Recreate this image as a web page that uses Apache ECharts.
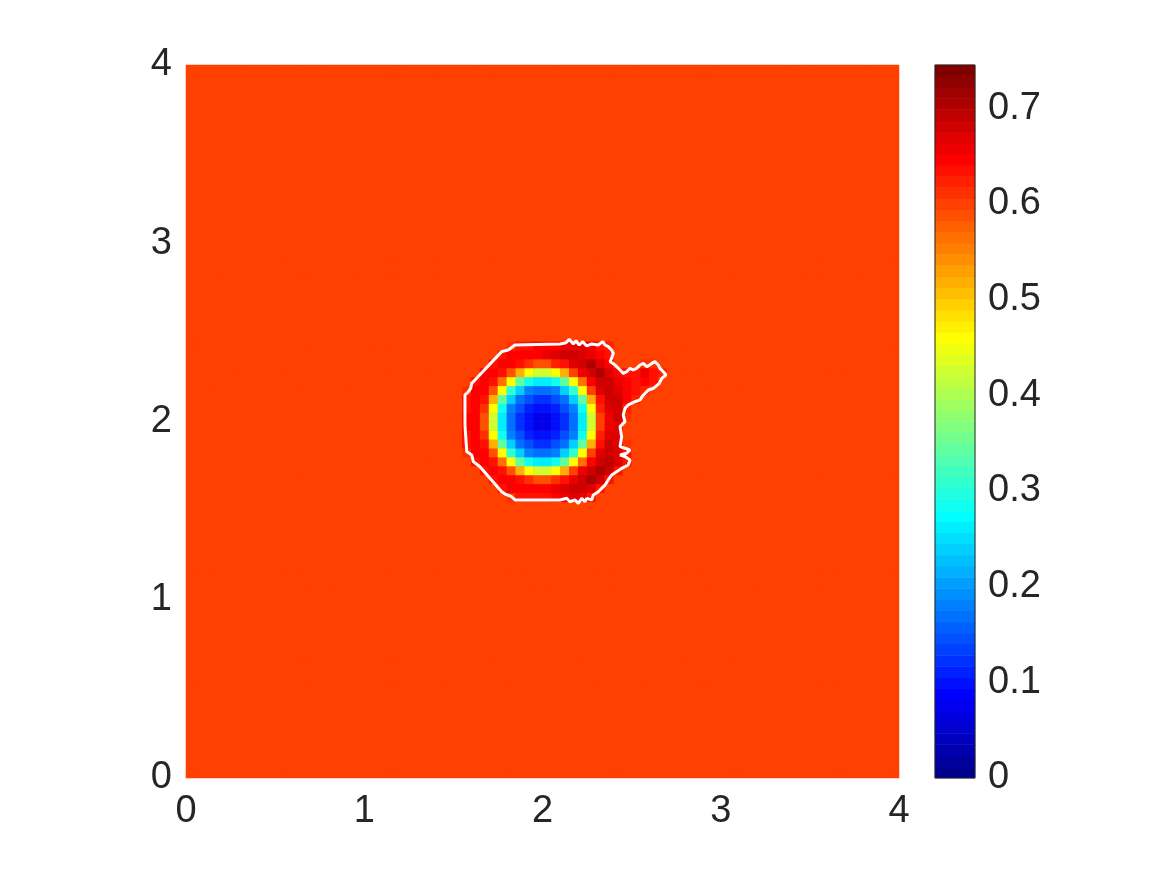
<!DOCTYPE html>
<html>
<head>
<meta charset="utf-8">
<script src="https://cdn.jsdelivr.net/npm/echarts@6/dist/echarts.min.js"></script>
<style>
html,body{margin:0;padding:0;background:#fff;}
#main{width:1167px;height:875px;}
</style>
</head>
<body>
<div id="main"></div>
<script>
// field sampled on a 0.05 grid over [0,4]x[0,4]
var nCells = 80;
var baseValue = 0.60;

// patch around the hole, values x100, columns x=1.575..2.675, rows top (y=2.475) to bottom (y=1.525)
var patchCol0 = 31;
var patchRowTop = 49;
var patchRows = [
    [60,60,60,60,60,60,60,60,60, 60,60,60,60,60,60,60,60,60,60,60,60,60,60],
    [60,60,60,60,60,61,63,64,65, 65,65,66,66,67,66,64,62,60,60,60,60,60,60],
    [60,60,60,60,63,65,65,65,65, 66,67,68,68,67,66,65,63,60,60,60,60,60,60],
    [60,60,60,64,65,65,63,61,59, 59,62,64,67,68,70,67,65,60,60,60,61,61,60],
    [60,60,65,65,64,59,52,46,42, 42,46,52,60,66,68,70,67,65,63,64,66,64,62],
    [60,63,65,64,57,46,34,29,26, 26,29,34,46,57,65,68,68,66,65,64,65,64,60],
    [61,65,65,59,46,31,24,18,17, 17,18,24,31,46,60,67,68,67,65,64,62,60,60],
    [63,65,63,52,34,24,17,14,12, 12,14,17,24,34,52,64,68,68,65,62,60,60,60],
    [64,65,61,46,29,18,14,11,10, 10,11,14,18,29,46,62,67,68,62,60,60,60,60],
    [65,65,59,42,26,17,12,10, 8,  8,10,12,17,26,42,60,66,68,61,60,60,60,60],
    [65,65,59,42,26,17,12,10, 8,  8,10,12,17,26,42,60,66,67,60,60,60,60,60],
    [64,65,61,46,29,18,14,11,10, 10,11,14,18,29,46,62,67,67,60,60,60,60,60],
    [63,65,63,52,34,24,17,14,12, 12,14,17,24,34,52,64,68,67,61,60,60,60,60],
    [61,65,65,59,46,31,24,18,17, 17,18,24,31,46,60,67,68,67,63,60,60,60,60],
    [60,63,65,64,57,46,34,29,26, 26,29,34,46,57,65,68,69,67,64,60,60,60,60],
    [60,60,63,65,64,59,52,46,42, 42,46,52,60,66,68,70,68,63,60,60,60,60,60],
    [60,60,60,64,65,65,63,61,59, 59,61,63,66,68,70,68,63,60,60,60,60,60,60],
    [60,60,60,60,63,65,65,65,65, 65,66,67,68,68,67,64,60,60,60,60,60,60,60],
    [60,60,60,60,60,61,63,64,64, 64,65,66,67,66,63,60,60,60,60,60,60,60,60],
    [60,60,60,60,60,60,60,60,60, 60,60,60,60,60,60,60,60,60,60,60,60,60,60]
];

// white contour line
var contourX = [1.565,1.565,1.584,1.597,1.603,1.621,1.771,1.808,1.846,2.098,
    2.132,2.150,2.173,2.188,2.206,2.226,2.248,2.276,2.313,2.338,
    2.351,2.369,2.388,2.397,2.388,2.379,2.407,2.435,2.453,2.472,
    2.491,2.509,2.528,2.547,2.566,2.585,2.613,2.631,2.650,2.659,
    2.678,2.693,2.669,2.655,2.622,2.594,2.566,2.547,2.519,2.481,
    2.463,2.453,2.463,2.435,2.444,2.435,2.463,2.491,2.472,2.435,
    2.463,2.491,2.481,2.444,2.416,2.388,2.369,2.351,2.332,2.313,
    2.285,2.276,2.248,2.238,2.220,2.201,2.182,2.154,2.136,2.098,
    1.846,1.827,1.790,1.771,1.649,1.612,1.603,1.575,1.565,1.565];
var contourY = [1.980,2.149,2.167,2.186,2.214,2.233,2.392,2.401,2.429,2.435,
    2.442,2.461,2.435,2.453,2.429,2.448,2.424,2.435,2.429,2.448,
    2.429,2.420,2.401,2.383,2.355,2.336,2.317,2.289,2.270,2.279,
    2.298,2.289,2.298,2.317,2.326,2.307,2.326,2.336,2.317,2.298,
    2.279,2.261,2.242,2.214,2.186,2.177,2.149,2.121,2.111,2.093,
    2.074,2.036,1.999,1.971,1.915,1.859,1.850,1.840,1.822,1.812,
    1.803,1.784,1.756,1.737,1.718,1.700,1.672,1.644,1.625,1.606,
    1.588,1.560,1.569,1.550,1.569,1.541,1.560,1.550,1.569,1.560,
    1.560,1.578,1.593,1.606,1.746,1.775,1.812,1.831,1.840,1.980];

var cbTicks = [0, 0.1, 0.2, 0.3, 0.4, 0.5, 0.6, 0.7];
var cbMax = 0.745;
var nLevels = 64;

// matlab jet(64)
function jetColor(k) {
    var n = 16;
    function u(idx) {
        if (idx < 1 || idx > 47) return 0;
        if (idx <= n) return idx / n;
        if (idx <= 2 * n - 1) return 1;
        return (3 * n - idx) / n;
    }
    var r = u(k - 24), g = u(k - 8), b = u(k + 8);
    function h(v) { var s = Math.round(v * 255).toString(16); return s.length < 2 ? '0' + s : s; }
    return '#' + h(r) + h(g) + h(b);
}

var pieces = [];
for (var k = 0; k < nLevels; k++) {
    var p = {gte: k * cbMax / nLevels, color: jetColor(k + 1)};
    if (k < nLevels - 1) p.lt = (k + 1) * cbMax / nLevels; else p.lte = 10;
    pieces.push(p);
}
var baseColor = jetColor(Math.floor(baseValue / cbMax * nLevels) + 1);

var cats = [];
for (var i = 0; i < nCells; i++) cats.push(i);

var fieldData = [];
for (var j = 0; j < nCells; j++) {
    for (var i = 0; i < nCells; i++) {
        var v = baseValue;
        var pr = patchRowTop - j, pc = i - patchCol0;
        if (pr >= 0 && pr < patchRows.length && pc >= 0 && pc < patchRows[0].length) {
            v = patchRows[pr][pc] / 100;
        }
        fieldData.push([i, j, v]);
    }
}

var cbCats = [], cbData = [];
for (var k = 0; k < nLevels; k++) {
    cbCats.push(k);
    cbData.push([0, k, (k + 0.5) * cbMax / nLevels]);
}

var contourData = [];
for (var i = 0; i < contourX.length; i++) contourData.push([contourX[i], contourY[i]]);

var txt = {fontFamily: 'Liberation Sans', fontSize: 38, color: '#262626'};

var myChart = echarts.init(document.getElementById('main'));
var option = {
    animation: false,
    backgroundColor: '#fff',
    grid: [
        {left: 186, top: 65, width: 713, height: 713, show: true, borderWidth: 0, backgroundColor: baseColor},
        {left: 935, top: 65, width: 40, height: 713, show: true, backgroundColor: 'transparent',
            borderColor: '#262626', borderWidth: 1, z: 10}
    ],
    xAxis: [
        {type: 'category', gridIndex: 0, data: cats, show: false},
        {type: 'value', gridIndex: 0, position: 'bottom', min: 0, max: 4, interval: 1,
            axisLine: {show: false}, axisTick: {show: false}, splitLine: {show: false},
            axisLabel: Object.assign({margin: 15}, txt)},
        {type: 'category', gridIndex: 1, data: ['c'], show: false}
    ],
    yAxis: [
        {type: 'category', gridIndex: 0, data: cats, show: false},
        {type: 'value', gridIndex: 0, position: 'left', min: 0, max: 4, interval: 1,
            axisLine: {show: false}, axisTick: {show: false}, splitLine: {show: false},
            axisLabel: Object.assign({margin: 14}, txt)},
        {type: 'category', gridIndex: 1, data: cbCats, show: false},
        {type: 'value', gridIndex: 1, min: 0, max: cbMax, position: 'right', z: 11,
            axisLine: {show: false}, splitLine: {show: false},
            axisTick: {inside: true, length: 6, customValues: cbTicks, lineStyle: {color: '#262626'}},
            axisLabel: Object.assign({margin: 13, customValues: cbTicks,
                formatter: function (v) { return v === 0 ? '0' : v.toFixed(1); }}, txt)}
    ],
    visualMap: {
        type: 'piecewise',
        show: false,
        seriesIndex: [0, 2],
        dimension: 2,
        pieces: pieces
    },
    series: [
        {
            type: 'heatmap',
            xAxisIndex: 0,
            yAxisIndex: 0,
            data: fieldData,
            progressive: 0,
            itemStyle: {borderWidth: 0},
            emphasis: {disabled: true}
        },
        {
            type: 'line',
            xAxisIndex: 1,
            yAxisIndex: 1,
            data: contourData,
            symbol: 'none',
            lineStyle: {color: '#ffffff', width: 3},
            z: 5
        },
        {
            type: 'heatmap',
            xAxisIndex: 2,
            yAxisIndex: 2,
            data: cbData,
            progressive: 0,
            itemStyle: {borderWidth: 0},
            emphasis: {disabled: true}
        }
    ]
};
myChart.setOption(option);
</script>
</body>
</html>
